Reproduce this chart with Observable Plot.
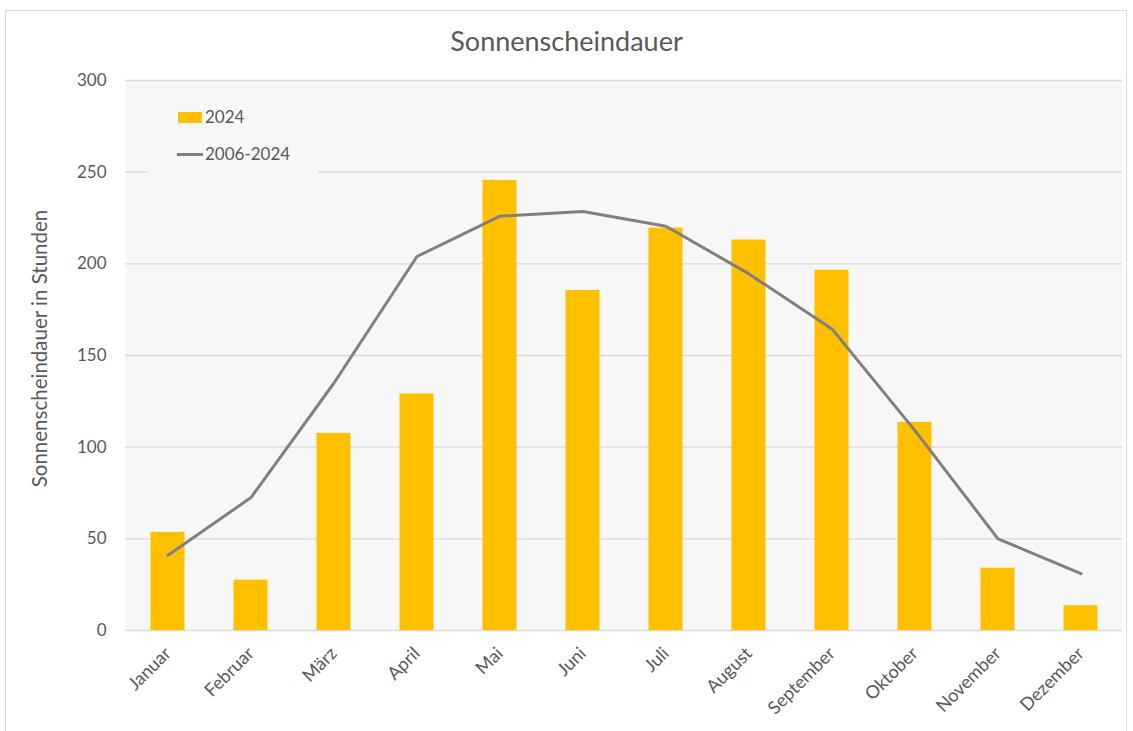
<!DOCTYPE html>
<html>
<head>
<meta charset="utf-8">
<script src="https://cdn.jsdelivr.net/npm/d3@7"></script>
<script src="https://cdn.jsdelivr.net/npm/@observablehq/plot@0.6"></script>
<style>
  html, body { margin: 0; padding: 0; background: #ffffff; }
  body { width: 1133px; height: 731px; position: relative; overflow: hidden; font-family: Lato, "Open Sans", sans-serif; }
  #border { position: absolute; left: 5px; top: 10px; width: 1122px; height: 740px; border: 1px solid #d9d9d9; box-sizing: border-box; }
  #chart { position: absolute; left: 0; top: 0; }
  #title { position: absolute; left: 0; top: 24px; width: 1133px; text-align: center; font-size: 27px; color: #595959; line-height: 34px; }
  #legend { position: absolute; left: 147px; top: 94px; width: 171px; height: 84px; background: #f7f7f7; color: #595959; font-size: 17px; }
  .sw-bar { position: absolute; left: 31px; width: 24px; height: 11px; background: #FFC000; }
  .sw-line { position: absolute; left: 30px; width: 26px; height: 3px; background: #808080; }
  .lt { position: absolute; left: 58px; white-space: nowrap; line-height: 20px; }
</style>
</head>
<body>
<div id="border"></div>
<div id="chart"></div>
<div id="title">Sonnenscheindauer</div>
<div id="legend">
  <div class="sw-bar" style="top:18px"></div><div class="lt" style="top:13px">2024</div>
  <div class="sw-line" style="top:59px"></div><div class="lt" style="top:50px">2006-2024</div>
</div>
<script>
const months = ["Januar","Februar","März","April","Mai","Juni","Juli","August","September","Oktober","November","Dezember"];
const sun2024 = [53.5, 27.5, 107.5, 129, 245.5, 185.5, 219.5, 213, 196.5, 113.5, 34, 13.5];
const avg2006_2024 = [41, 72.5, 135, 204, 226, 228.5, 220.5, 194.5, 164.5, 109, 50, 31];
const yTicks = [0, 50, 100, 150, 200, 250, 300];
const yLabel = "Sonnenscheindauer in Stunden";

const bars = months.map((m, i) => ({month: m, value: sun2024[i]}));
const line = months.map((m, i) => ({month: m, value: avg2006_2024[i]}));

const chart = Plot.plot({
  width: 1133,
  height: 731,
  marginLeft: 125,
  marginRight: 11,
  marginTop: 80,
  marginBottom: 101,
  style: {fontFamily: "Lato, 'Open Sans', sans-serif", fontSize: "17px", color: "#595959", background: "transparent"},
  x: {domain: months, padding: 0, label: null},
  y: {domain: [0, 300], ticks: yTicks, label: null},
  marks: [
    Plot.frame({fill: "#f7f7f7", stroke: null}),
    Plot.ruleY(yTicks, {stroke: "#d9d9d9", strokeWidth: 1.3}),
    Plot.barY(bars, {x: "month", y: "value", fill: "#FFC000", insetLeft: 24.5, insetRight: 24.5}),
    Plot.line(line, {x: "month", y: "value", stroke: "#808080", strokeWidth: 3, strokeLinejoin: "round"}),
    Plot.axisY(yTicks, {tickSize: 0, tickPadding: 19, fill: "#595959", fontSize: 17}),
    Plot.axisX({tickSize: 0, tickPadding: 20, tickRotate: -45, fill: "#595959", fontSize: 18}),
    Plot.text([yLabel], {frameAnchor: "left", dx: -85, dy: -7, rotate: -90, textAnchor: "middle", fill: "#595959", fontSize: 20.5})
  ]
});
document.getElementById("chart").appendChild(chart);
</script>
</body>
</html>
